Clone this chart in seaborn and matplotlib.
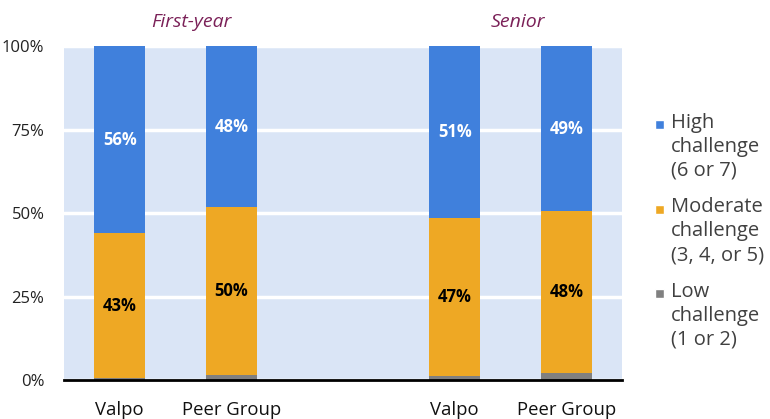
import numpy as np
import pandas as pd
import matplotlib
import matplotlib.pyplot as plt
import seaborn as sns
from matplotlib.patches import Patch, Rectangle
from matplotlib.legend_handler import HandlerPatch

sns.set_theme(style="white")
matplotlib.rcParams['font.family'] = ['Open Sans', 'DejaVu Sans']

# data (percent of respondents)
groups = ['First-year', 'First-year', 'Senior', 'Senior']
bar_names = ['Valpo', 'Peer Group', 'Valpo', 'Peer Group']
low = [0.6, 1.5, 1.2, 2.2]
moderate = [43.4, 50.2, 47.4, 48.4]
high = [56.0, 48.3, 51.4, 49.4]
group_titles = ['First-year', 'Senior']
y_ticks = [0, 25, 50, 75, 100]
legend_labels = ['High\nchallenge\n(6 or 7)',
                 'Moderate\nchallenge\n(3, 4, or 5)',
                 'Low\nchallenge\n(1 or 2)']

c_high, c_mod, c_low = '#4080DC', '#EEA824', '#808080'
bg = '#DAE5F6'
LEG_FS = 14.5
LEG_LS = 1.28

pos = [0, 1, 3, 4]
df = pd.DataFrame({'pos': pos, 'name': bar_names, 'group': groups,
                   'low': low, 'moderate': moderate, 'high': high})
df['top_low'] = df['low']
df['top_mod'] = df['low'] + df['moderate']
df['top_high'] = df['top_mod'] + df['high']

fig = plt.figure(figsize=(7.7, 4.19), dpi=100)
ax = fig.add_axes([0.083, 0.093, 0.725, 0.797])
ax.set_facecolor(bg)

for col, color in [('top_high', c_high), ('top_mod', c_mod), ('top_low', c_low)]:
    sns.barplot(data=df, x='pos', y=col, native_scale=True, width=0.46,
                color=color, saturation=1, ax=ax, zorder=3, linewidth=0)

# segment labels
for _, row in df.iterrows():
    ax.text(row['pos'], row['top_low'] + row['moderate'] / 2, f"{row['moderate']:.0f}%",
            ha='center', va='center', fontsize=12, fontweight='bold', color='black', zorder=5)
    ax.text(row['pos'], row['top_mod'] + row['high'] / 2, f"{row['high']:.0f}%",
            ha='center', va='center', fontsize=12, fontweight='bold', color='white', zorder=5)

ax.set_xlim(-0.5, 4.5)
ax.set_ylim(0, 100)
ax.set_yticks(y_ticks)
ax.set_yticklabels([f'{t}%' for t in y_ticks], fontsize=12, color='#222222')
ax.set_xticks(pos)
ax.set_xticklabels(bar_names, fontsize=13.3, color='#111111')
ax.tick_params(axis='x', length=0, pad=15)
ax.tick_params(axis='y', length=0, pad=14)
ax.set_xlabel('')
ax.set_ylabel('')

ax.yaxis.grid(True, color='white', linewidth=2.5, zorder=1)
ax.set_axisbelow(True)
for s in ['left', 'right', 'top']:
    ax.spines[s].set_visible(False)
ax.spines['bottom'].set_color('black')
ax.spines['bottom'].set_linewidth(2)
ax.spines['bottom'].set_zorder(4)

# group titles above the bars
for gx, title in zip([0.64, 3.57], group_titles):
    ax.text(gx, 104.5, title, ha='center', va='bottom', fontsize=14, style='italic',
            color='#7B2158', clip_on=False)


def top_square(legend, orig_handle, xdescent, ydescent, width, height, fontsize):
    # put the square beside the first line of a multi-line label
    side = 6.5
    line = 16.0
    return Rectangle((-xdescent + width - side, -ydescent + height / 2 - side / 2 + line),
                     side, side)


handles = [Patch(facecolor=c_high, label=legend_labels[0]),
           Patch(facecolor=c_mod, label=legend_labels[1]),
           Patch(facecolor=c_low, label=legend_labels[2])]
leg = fig.legend(handles=handles, loc='center left', bbox_to_anchor=(0.826, 0.448),
                 frameon=False, fontsize=LEG_FS, handlelength=0.5, handleheight=0.5,
                 handletextpad=0.35, labelspacing=0.8, labelcolor='#404040',
                 handler_map={Patch: HandlerPatch(patch_func=top_square)})
for t in leg.get_texts():
    t.set_linespacing(LEG_LS)

plt.savefig('out.png', dpi=100)
